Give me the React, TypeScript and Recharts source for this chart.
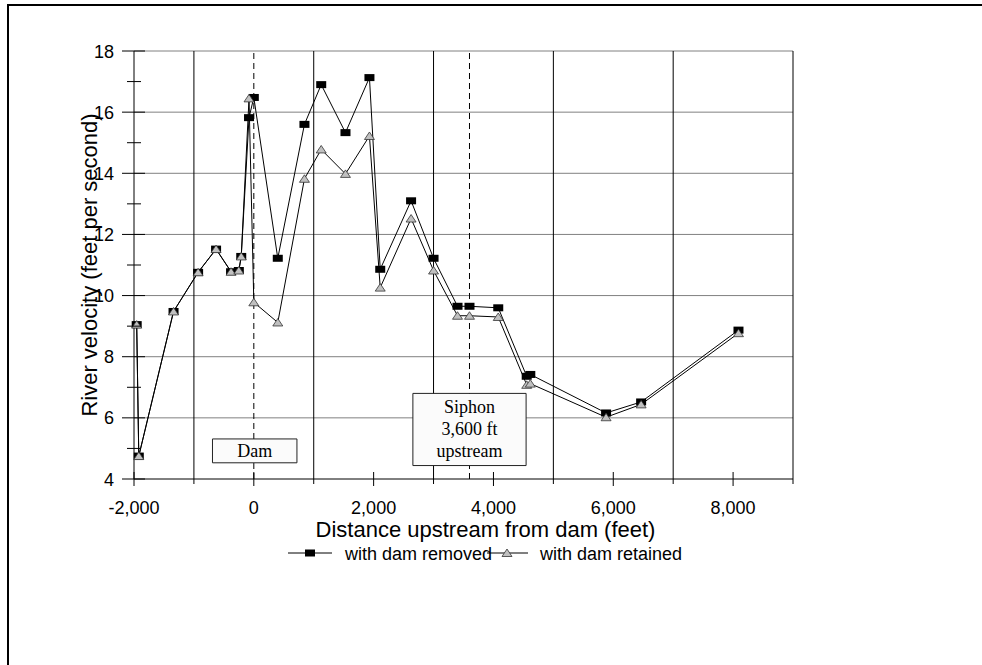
import React from 'react';
import { LineChart, Line, XAxis, YAxis, ReferenceLine, ReferenceArea } from 'recharts';

// distance upstream from the dam (ft) and river velocity (ft/s)
const distanceFt = [
  -1955, -1920, -1340, -930, -630, -380, -250, -210, -80, 0, 400, 845, 1125,
  1530, 1930, 2110, 2625, 3000, 3400, 3600, 4080, 4555, 4615, 5880, 6465, 8090,
];
const velocityRemoved = [
  9.05, 4.75, 9.48, 10.76, 11.52, 10.78, 10.82, 11.28, 15.82, 16.48, 11.22, 15.6, 16.9,
  15.33, 17.13, 10.86, 13.1, 11.22, 9.65, 9.65, 9.6, 7.36, 7.42, 6.16, 6.52, 8.87,
];
const velocityRetained = [
  9.05, 4.75, 9.48, 10.76, 11.52, 10.78, 10.82, 11.28, 16.45, 9.78, 9.12, 13.82, 14.78,
  13.98, 15.22, 10.26, 12.52, 10.82, 9.34, 9.34, 9.3, 7.08, 7.12, 6.02, 6.44, 8.77,
];

const xTicks = [-2000, -1000, 0, 1000, 2000, 3000, 4000, 5000, 6000, 7000, 8000, 9000];
const xGridLines = [-1000, 1000, 3000, 5000, 7000, 9000];
const yTicks = [4, 5, 6, 7, 8, 9, 10, 11, 12, 13, 14, 15, 16, 17, 18];
const yGridLines = [6, 8, 10, 12, 14, 16, 18];
const dashedMarkers = [0, 3600];

const seriesNames = ['with dam removed', 'with dam retained'];
const damLabel = ['Dam'];
const siphonLabel = ['Siphon', '3,600 ft', 'upstream'];

const data = distanceFt.map((d, i) => ({
  distance: d,
  removed: velocityRemoved[i],
  retained: velocityRetained[i],
}));

const SANS = '"Liberation Sans", Arial, sans-serif';
const SERIF = '"Liberation Serif", "Times New Roman", serif';
const TRI_FILL = '#c0c0c0';

function Square({ cx, cy }: { cx: number; cy: number }) {
  return <rect x={cx - 5} y={cy - 3.5} width={10} height={7} fill="#000" />;
}

function Triangle({ cx, cy }: { cx: number; cy: number }) {
  return (
    <polygon
      points={`${cx},${cy - 4} ${cx - 5},${cy + 3.5} ${cx + 5},${cy + 3.5}`}
      fill={TRI_FILL}
      stroke="#333"
      strokeWidth={0.8}
    />
  );
}

function XTick(props: any) {
  const { x, y, payload } = props;
  const v = payload.value as number;
  const major = v % 2000 === 0;
  return (
    <g>
      <line x1={x} x2={x} y1={major ? y - 7 : y} y2={y + (major ? 7 : 5)} stroke="#000" />
      {major && (
        <text x={x} y={y + 35} textAnchor="middle" fontFamily={SANS} fontSize={18} fill="#000">
          {v.toLocaleString('en-US')}
        </text>
      )}
    </g>
  );
}

function YTick(props: any) {
  const { x, y, payload } = props;
  const v = payload.value as number;
  const major = v % 2 === 0;
  return (
    <g>
      <line x1={x - (major ? 12 : 7)} x2={x + (major ? 11 : 7)} y1={y} y2={y} stroke="#000" />
      {major && (
        <text x={x - 20} y={y + 6.5} textAnchor="end" fontFamily={SANS} fontSize={18} fill="#000">
          {v}
        </text>
      )}
    </g>
  );
}

function BoxText(props: any) {
  const { viewBox, lines } = props;
  const { x, y, width, height } = viewBox;
  const lh = 22;
  const top = y + height / 2 - ((lines.length - 1) * lh) / 2 + 6;
  return (
    <text textAnchor="middle" fontFamily={SERIF} fontSize={18} fill="#000">
      {lines.map((s: string, i: number) => (
        <tspan key={s} x={x + width / 2} y={top + i * lh}>
          {s}
        </tspan>
      ))}
    </text>
  );
}

function XLabel(props: any) {
  const { x, y, width } = props.viewBox;
  return (
    <text x={x + width / 2 + 22} y={y + 58} textAnchor="middle" fontFamily={SANS} fontSize={22} fill="#000">
      Distance upstream from dam (feet)
    </text>
  );
}

function YLabel(props: any) {
  const { x, y, height } = props.viewBox;
  return (
    <text
      transform={`translate(${x + 23},${y + height / 2}) rotate(-90)`}
      textAnchor="middle"
      fontFamily={SANS}
      fontSize={22}
      fill="#000"
    >
      River velocity (feet per second)
    </text>
  );
}

function ChartLegend() {
  return (
    <svg width={982} height={30} style={{ position: 'absolute', left: 0, top: 538 }}>
      <line x1={288} x2={332} y1={15} y2={15} stroke="#000" />
      <Square cx={310} cy={15} />
      <text x={345} y={21.5} fontFamily={SANS} fontSize={18}>{seriesNames[0]}</text>
      <line x1={487} x2={528} y1={15} y2={15} stroke="#000" />
      <Triangle cx={507} cy={15} />
      <text x={540} y={21.5} fontFamily={SANS} fontSize={18}>{seriesNames[1]}</text>
    </svg>
  );
}

export default function App() {
  return (
    <div
      style={{
        position: 'absolute',
        left: 0,
        top: 0,
        width: 982,
        height: 665,
        overflow: 'hidden',
        background: '#fff',
      }}
    >
      <div
        style={{
          position: 'absolute',
          left: 7,
          top: 4,
          width: 1000,
          height: 700,
          borderLeft: '2px solid #000',
          borderTop: '2px solid #000',
        }}
      />
      <div style={{ position: 'absolute', left: 0, top: 0 }}>
        <LineChart width={982} height={665} data={data} margin={{ top: 51, right: 189, bottom: 146, left: 74 }}>
          {yGridLines.map((v) => (
            <ReferenceLine key={`h${v}`} y={v} stroke="#808080" strokeWidth={1} />
          ))}
          {xGridLines.map((v) => (
            <ReferenceLine key={`v${v}`} x={v} stroke="#000" strokeWidth={1} />
          ))}
          {dashedMarkers.map((v) => (
            <ReferenceLine key={`d${v}`} x={v} stroke="#000" strokeDasharray="6 4" />
          ))}
          <XAxis
            dataKey="distance"
            type="number"
            domain={[-2000, 9000]}
            ticks={xTicks}
            interval={0}
            height={40}
            tickSize={0}
            tickMargin={0}
            tickLine={false}
            axisLine={{ stroke: '#000' }}
            tick={XTick}
            label={(p: any) => <XLabel {...p} />}
          />
          <YAxis
            type="number"
            domain={[4, 18]}
            ticks={yTicks}
            interval={0}
            width={60}
            tickSize={0}
            tickMargin={0}
            tickLine={false}
            axisLine={{ stroke: '#000' }}
            tick={YTick}
            label={(p: any) => <YLabel {...p} />}
          />
          <Line
            dataKey="removed"
            name={seriesNames[0]}
            stroke="#000"
            strokeWidth={1}
            isAnimationActive={false}
            dot={(p: any) => <Square key={`s${p.index}`} cx={p.cx} cy={p.cy} />}
            activeDot={false}
          />
          <Line
            dataKey="retained"
            name={seriesNames[1]}
            stroke="#000"
            strokeWidth={1}
            isAnimationActive={false}
            dot={(p: any) => <Triangle key={`t${p.index}`} cx={p.cx} cy={p.cy} />}
            activeDot={false}
          />
          <ReferenceArea
            x1={-690}
            x2={720}
            y1={4.53}
            y2={5.31}
            fill="#fbfbfb"
            fillOpacity={1}
            stroke="#222"
            zIndex={1000}
            label={(p: any) => <BoxText {...p} lines={damLabel} />}
          />
          <ReferenceArea
            x1={2655}
            x2={4545}
            y1={4.44}
            y2={6.8}
            fill="#fbfbfb"
            fillOpacity={1}
            stroke="#222"
            zIndex={1000}
            label={(p: any) => <BoxText {...p} lines={siphonLabel} />}
          />
        </LineChart>
      </div>
      <ChartLegend />
    </div>
  );
}
